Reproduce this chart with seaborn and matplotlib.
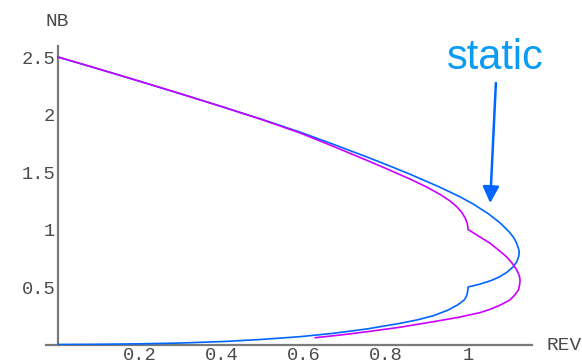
import matplotlib
matplotlib.use("Agg")
import matplotlib.pyplot as plt
from matplotlib.ticker import MultipleLocator, FixedLocator
import seaborn as sns
import pandas as pd

# ---- data ----
blue_x = [0, 0.1, 0.2, 0.3, 0.4, 0.5, 0.59, 0.67, 0.753, 0.81, 0.859, 0.932, 0.98,
          1.013, 1.05, 1.078, 1.1, 1.111, 1.118, 1.123, 1.125, 1.124, 1.119, 1.11,
          1.094, 1.075, 1.054, 1.028, 1.0, 0.9995, 0.998, 0.995, 0.99, 0.975, 0.95,
          0.915, 0.875, 0.834, 0.753, 0.671, 0.59, 0.5, 0.411, 0.3, 0.2, 0.1, 0]
blue_y = [2.5, 2.395, 2.288, 2.179, 2.068, 1.955, 1.847, 1.743, 1.631, 1.551, 1.48, 1.367, 1.285,
          1.221, 1.136, 1.058, 0.981, 0.932, 0.886, 0.836, 0.806, 0.77, 0.72, 0.675,
          0.626, 0.585, 0.553, 0.524, 0.5, 0.47, 0.44, 0.41, 0.385, 0.345, 0.297,
          0.25, 0.213, 0.184, 0.135, 0.097, 0.068, 0.045, 0.027, 0.013, 0.006, 0.002, 0.0]

magenta_x = [0, 0.1, 0.2, 0.3, 0.4, 0.5, 0.59, 0.67, 0.753, 0.81, 0.859, 0.9, 0.932, 0.955,
             0.972, 0.985, 0.993, 0.998, 0.9995, 1.0, 1.027, 1.054, 1.075, 1.094, 1.108,
             1.119, 1.125, 1.127, 1.126, 1.123, 1.114, 1.102, 1.08, 1.054, 1.029, 0.975,
             0.915, 0.834, 0.753, 0.69, 0.627]
magenta_y = [2.5, 2.395, 2.288, 2.179, 2.068, 1.952, 1.84, 1.725, 1.602, 1.515, 1.438, 1.368, 1.305,
             1.251, 1.2, 1.148, 1.1, 1.055, 1.025, 1.0, 0.94, 0.88, 0.82, 0.763, 0.705,
             0.648, 0.6, 0.561, 0.52, 0.474, 0.43, 0.387, 0.345, 0.306, 0.277, 0.235,
             0.198, 0.15, 0.111, 0.083, 0.059]

x_ticks = [0.2, 0.4, 0.6, 0.8, 1.0]
x_tick_labels = ["0.2", "0.4", "0.6", "0.8", "1"]
y_ticks = [0.5, 1.0, 1.5, 2.0, 2.5]
y_tick_labels = ["0.5", "1", "1.5", "2", "2.5"]

x_label = "REV"
y_label = "NB"
annotation_text = "static"

# ---- figure ----
sns.set_style("white")
plt.rcParams["font.family"] = ["Liberation Mono", "DejaVu Sans Mono"]

W, H = 582, 364
fig = plt.figure(figsize=(W / 100, H / 100), dpi=100)
x0, x1 = -0.03, 1.155
y0, y1 = 0.0, 2.6
left_px = 58 + x0 * 410
right_px = 58 + x1 * 410
bottom_px = 344.5
top_px = 344.5 - y1 * 115
ax = fig.add_axes([left_px / W, (H - bottom_px) / H,
                   (right_px - left_px) / W, (bottom_px - top_px) / H])

df_blue = pd.DataFrame({"x": blue_x, "y": blue_y})
df_mag = pd.DataFrame({"x": magenta_x, "y": magenta_y})

sns.lineplot(data=df_blue, x="x", y="y", sort=False, estimator=None,
             color="#0066ff", lw=1.2, ax=ax)
sns.lineplot(data=df_mag, x="x", y="y", sort=False, estimator=None,
             color="#cc00ff", lw=1.2, ax=ax)

ax.set_xlim(x0, x1)
ax.set_ylim(y0, y1)
ax.set_xlabel("")
ax.set_ylabel("")

for s in ["top", "right"]:
    ax.spines[s].set_visible(False)
ax.spines["left"].set_position(("data", 0))
ax.spines["bottom"].set_position(("data", 0))
for s in ["left", "bottom"]:
    ax.spines[s].set_color("#7a7a7a")
    ax.spines[s].set_linewidth(1.6)
    ax.spines[s].set_zorder(1)

ax.xaxis.set_major_locator(FixedLocator(x_ticks))
ax.set_xticklabels(x_tick_labels)
ax.yaxis.set_major_locator(FixedLocator(y_ticks))
ax.set_yticklabels(y_tick_labels)
ax.xaxis.set_minor_locator(MultipleLocator(0.05))
ax.yaxis.set_minor_locator(MultipleLocator(0.1))

ax.tick_params(axis="both", which="major", direction="in", length=4.5, width=1.0,
               color="#222222", labelsize=13.5, labelcolor="#4a4a4a", pad=2)
ax.tick_params(axis="both", which="minor", direction="in", length=2.5, width=0.9,
               color="#222222")

fig.text(57 / W, (H - 21) / H, y_label, ha="center", va="center",
         fontsize=14, color="#4a4a4a", family=["Liberation Mono"])
fig.text(547 / W, (H - 345) / H, x_label, ha="left", va="center",
         fontsize=14, color="#4a4a4a", family=["Liberation Mono"])

ax.annotate("", xy=(1.054, 1.23), xytext=(1.068, 2.274), xycoords="data",
            arrowprops=dict(arrowstyle="-|>,head_length=1.0,head_width=0.5",
                            color="#0066ff", lw=1.8, shrinkA=0, shrinkB=0),
            annotation_clip=False)
ax.text(1.066, 2.49, annotation_text, ha="center", va="center", fontsize=30,
        color="#0a9cf5", family=["Liberation Sans", "DejaVu Sans"])

fig.savefig("out.png", dpi=100)
